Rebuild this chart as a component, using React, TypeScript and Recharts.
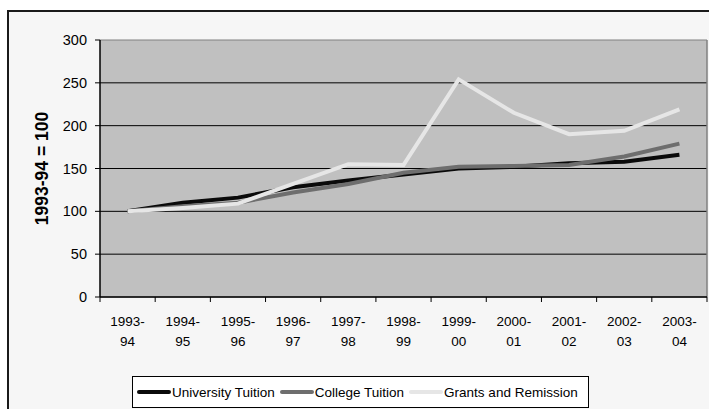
import React from 'react';
import { LineChart, Line, XAxis, YAxis, CartesianGrid, Legend } from 'recharts';

const categories = ['1993-94', '1994-95', '1995-96', '1996-97', '1997-98', '1998-99', '1999-00', '2000-01', '2001-02', '2002-03', '2003-04'];
const universityTuition = [100, 110, 116, 128, 136, 143, 150, 152, 156, 158, 166];
const collegeTuition = [100, 106, 110, 122, 132, 145, 152, 153, 154, 164, 179];
const grantsAndRemission = [100, 104, 109, 132, 155, 154, 254, 215, 190, 194, 219];
const yTicks = [0, 50, 100, 150, 200, 250, 300];
const yLabel = '1993-94 = 100';

const seriesNames = ['University Tuition', 'College Tuition', 'Grants and Remission'];
const seriesColors = ['#0a0a0a', '#6e6e6e', '#e6e6e6'];

const data = categories.map((c, i) => ({
  cat: c,
  u: universityTuition[i],
  c: collegeTuition[i],
  g: grantsAndRemission[i],
}));

const FONT = '"Liberation Sans", Arial, sans-serif';

const XTick = (props: any) => {
  const { x, y, payload, index, visibleTicksCount, width } = props;
  const half = payload && payload.offset ? payload.offset : width / visibleTicksCount / 2;
  const parts = String(payload.value).split('-');
  const isLast = index === visibleTicksCount - 1;
  return (
    <g>
      <line x1={x - half} x2={x - half} y1={y} y2={y + 5} stroke="#000" strokeWidth={1} />
      {isLast && <line x1={x + half} x2={x + half} y1={y} y2={y + 5} stroke="#000" strokeWidth={1} />}
      <text x={x} y={y + 29} textAnchor="middle" fontFamily={FONT} fontSize={13.5} fill="#000">{parts[0] + '-'}</text>
      <text x={x} y={y + 49} textAnchor="middle" fontFamily={FONT} fontSize={13.5} fill="#000">{parts[1]}</text>
    </g>
  );
};

const HLine = (props: any) => {
  const { x1, x2, y1, y2, index } = props;
  const top = index === 0 || y1 < 45;
  return <line x1={x1} x2={x2} y1={y1} y2={y2} stroke={top ? '#808080' : '#000'} strokeWidth={1} />;
};

const VLine = (props: any) => {
  const { x1, x2, y1, y2 } = props;
  return <line x1={x1} x2={x2} y1={y1} y2={y2} stroke="#808080" strokeWidth={1.5} />;
};

const YLabel = (props: any) => {
  const { viewBox } = props;
  const cx = viewBox.x + 42;
  const cy = viewBox.y + viewBox.height / 2;
  return (
    <text x={cx} y={cy} transform={`rotate(-90, ${cx}, ${cy})`} textAnchor="middle" dominantBaseline="central"
      fontFamily={FONT} fontSize={17.5} fontWeight="bold" fill="#000">{yLabel}</text>
  );
};

const LegendBox = () => (
  <div style={{ position: 'relative', width: 709, height: 62 }}>
    <div style={{
      position: 'absolute', left: 132, top: 29, width: 451, height: 30, border: '1px solid #000',
      background: '#fff', display: 'flex', alignItems: 'center', paddingLeft: 4, boxSizing: 'content-box',
      fontFamily: FONT, fontSize: 13.5, color: '#000', whiteSpace: 'nowrap',
    }}>
      {seriesNames.map((n, i) => (
        <div key={n} style={{ display: 'flex', alignItems: 'center', marginRight: 5 }}>
          <div style={{ width: 34, height: 4, background: seriesColors[i], marginRight: 1, borderRadius: 2 }} />
          <span>{n}</span>
        </div>
      ))}
    </div>
  </div>
);

export default function App() {
  return (
    <div style={{ position: 'absolute', left: 0, top: 0, width: 709, height: 409, background: '#fff', overflow: 'hidden' }}>
      <div style={{ position: 'absolute', left: 7, top: 10, width: 720, height: 420, borderLeft: '2px solid #1a1a1a', borderTop: '2px solid #1a1a1a', background: '#f6f6f6' }} />
      <div style={{ position: 'absolute', left: 0, top: 0 }}>
        <LineChart width={709} height={409} data={data} margin={{ top: 40, right: 2, bottom: 0, left: 0 }}>
          <CartesianGrid
            fill="#c0c0c0"
            horizontal={HLine}
            vertical={VLine}
            verticalCoordinatesGenerator={({ offset }: any) => [offset.left + offset.width]}
          />
          <XAxis dataKey="cat" scale="band" interval={0} height={50} tickSize={0} tickMargin={0}
            axisLine={{ stroke: '#000', strokeWidth: 1.5 }} tickLine={false} tick={<XTick />} />
          <YAxis domain={[0, 300]} ticks={yTicks} width={100} tickSize={5} tickMargin={8} interval={0}
            axisLine={{ stroke: '#000', strokeWidth: 1.5 }} tickLine={{ stroke: '#000' }}
            tick={{ fontFamily: FONT, fontSize: 14.5, fill: '#000' }} label={<YLabel />} />
          <Legend verticalAlign="bottom" content={<LegendBox />} wrapperStyle={{ left: 0, width: 709, height: 62 }} />
          <Line type="linear" dataKey="u" name={seriesNames[0]} stroke={seriesColors[0]} strokeWidth={4} dot={false} isAnimationActive={false} />
          <Line type="linear" dataKey="c" name={seriesNames[1]} stroke={seriesColors[1]} strokeWidth={4} dot={false} isAnimationActive={false} />
          <Line type="linear" dataKey="g" name={seriesNames[2]} stroke={seriesColors[2]} strokeWidth={4} dot={false} isAnimationActive={false} />
        </LineChart>
      </div>
    </div>
  );
}
